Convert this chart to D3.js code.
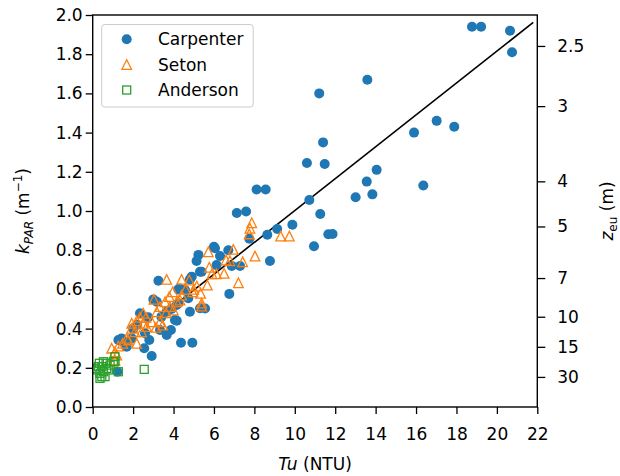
<!DOCTYPE html>
<html>
<head>
<meta charset="utf-8">
<script src="https://cdn.jsdelivr.net/npm/d3@7"></script>
<style>
  html, body { margin: 0; padding: 0; background: #fff; }
  svg text { font-family: "DejaVu Sans", sans-serif; fill: #000; }
</style>
</head>
<body>
<svg id="chart" width="620" height="476"></svg>
<script>
// Turbidity (NTU) vs. PAR attenuation coefficient (1/m), three sites
const carpenterTu = [18.77, 19.22, 20.65, 20.75, 17.02, 15.9, 17.89, 16.36, 13.59, 11.21, 11.40, 10.60, 11.48,
  14.05, 13.56, 13.01, 13.84, 10.72, 11.26, 9.88, 11.66, 11.87, 10.95, 8.11, 8.56, 7.13, 7.59,
  9.13, 8.64, 7.75, 8.77, 6.0, 6.71, 6.05, 5.23, 5.14, 6.30, 6.13, 5.31, 6.88, 7.29,
  6.76, 5.31, 5.56, 4.81, 4.9, 4.81, 3.25, 4.24, 4.29, 4.24, 4.15, 3.0, 4.07, 4.16, 3.66, 3.66,
  3.87, 3.33, 4.37, 4.93, 2.92, 2.55, 2.75, 2.8, 1.93, 1.43, 1.27, 1.68, 2.34, 2.59, 1.22,
  4.57, 4.73, 2.0, 2.2, 1.6, 3.4, 3.9, 5.39, 3.17];
const carpenterK = [1.94, 1.94, 1.92, 1.81, 1.46, 1.40, 1.43, 1.13, 1.67, 1.60, 1.35, 1.245, 1.24,
  1.21, 1.15, 1.07, 1.085, 1.056, 0.985, 0.93, 0.881, 0.883, 0.82, 1.11, 1.11, 0.99, 0.997,
  0.908, 0.879, 0.858, 0.745, 0.818, 0.80, 0.81, 0.776, 0.745, 0.77, 0.724, 0.69, 0.72, 0.719,
  0.577, 0.504, 0.503, 0.486, 0.665, 0.651, 0.644, 0.60, 0.605, 0.529, 0.52, 0.549, 0.444, 0.44, 0.486, 0.367,
  0.393, 0.393, 0.328, 0.328, 0.26, 0.30, 0.458, 0.342, 0.35, 0.35, 0.342, 0.308, 0.478, 0.376, 0.18,
  0.597, 0.555, 0.40, 0.42, 0.33, 0.46, 0.50, 0.69, 0.537];

const setonTu = [3.66, 4.40, 4.78, 5.72, 6.96, 8.03, 7.75, 7.78, 7.87, 9.30, 9.73, 7.42, 6.79, 7.21, 6.50,
  6.13, 5.77, 5.67, 5.15, 5.34, 5.39, 5.39, 4.95, 4.40, 3.96, 3.79, 4.16, 3.58, 3.33, 3.03, 3.82,
  4.32, 3.17, 3.63, 3.99, 2.64, 2.92, 3.33, 3.46, 2.50, 2.34, 1.93, 2.18, 2.67, 3.13, 2.42, 2.09,
  1.93, 1.68, 2.18, 1.76, 1.48, 1.27, 0.94, 1.10, 1.19, 1.10, 2.5, 4.6, 5.0, 5.9, 6.6];
const setonK = [0.651, 0.651, 0.648, 0.792, 0.804, 0.77, 0.883, 0.912, 0.94, 0.872, 0.872, 0.741, 0.746, 0.634, 0.682,
  0.679, 0.713, 0.622, 0.617, 0.58, 0.515, 0.53, 0.588, 0.571, 0.588, 0.563, 0.537, 0.537, 0.512, 0.549, 0.512,
  0.546, 0.486, 0.481, 0.495, 0.458, 0.435, 0.435, 0.418, 0.478, 0.458, 0.427, 0.44, 0.41, 0.406, 0.384, 0.384,
  0.401, 0.35, 0.325, 0.342, 0.325, 0.311, 0.30, 0.282, 0.265, 0.24, 0.427, 0.60, 0.60, 0.68, 0.75];

const andersonTu = [2.55, 1.27, 1.10, 1.10, 0.53, 0.2, 0.36, 0.45, 0.61, 0.69, 0.28, 0.86, 0.77, 0.53, 0.11,
  1.02, 0.33, 0.45, 0.66, 0.36];
const andersonK = [0.192, 0.18, 0.257, 0.231, 0.231, 0.189, 0.172, 0.155, 0.155, 0.197, 0.206, 0.214, 0.189, 0.18, 0.197,
  0.231, 0.223, 0.206, 0.223, 0.146];

// fitted relation, drawn between its two end points
const fitTu = [3.4, 21.8];
const fitK = [0.466, 1.962];

// axis ticks
const xTicks = [0, 2, 4, 6, 8, 10, 12, 14, 16, 18, 20, 22];
const yTicks = [0.0, 0.2, 0.4, 0.6, 0.8, 1.0, 1.2, 1.4, 1.6, 1.8, 2.0];
const zeuTicks = [2.5, 3, 4, 5, 7, 10, 15, 30];   // euphotic depth, z_eu = ln(100) / k

const seriesNames = ["Carpenter", "Seton", "Anderson"];
const colors = ["#1f77b4", "#ff7f0e", "#2ca02c"];

const svg = d3.select("#chart");
const L = 92.7, R = 537.3, T = 15, B = 407;
const fs = 17;
const fsSmall = 12;

const x = d3.scaleLinear().domain([0, 22]).range([L, R]);
const y = d3.scaleLinear().domain([0, 2.0]).range([B, T]);

const series = [
  { name: seriesNames[0], color: colors[0], shape: "circle",
    pts: carpenterTu.map((t, i) => [t, carpenterK[i]]) },
  { name: seriesNames[1], color: colors[1], shape: "triangle",
    pts: setonTu.map((t, i) => [t, setonK[i]]) },
  { name: seriesNames[2], color: colors[2], shape: "square",
    pts: andersonTu.map((t, i) => [t, andersonK[i]]) }
];

const triPath = "M0,-4.8L-4.8,4.8L4.8,4.8Z";

function drawMarker(g, shape, color) {
  if (shape === "circle") {
    g.append("circle").attr("r", 5).attr("fill", color);
  } else if (shape === "triangle") {
    g.append("path").attr("d", triPath).attr("fill", "none")
      .attr("stroke", color).attr("stroke-width", 1.3).attr("stroke-linejoin", "miter");
  } else {
    g.append("rect").attr("x", -4).attr("y", -4).attr("width", 8).attr("height", 8)
      .attr("fill", "none").attr("stroke", color).attr("stroke-width", 1.3);
  }
}

const plot = svg.append("g");
plot.append("defs").append("clipPath").attr("id", "clip")
  .append("rect").attr("x", L).attr("y", T).attr("width", R - L).attr("height", B - T);

const marks = plot.append("g").attr("clip-path", "url(#clip)");

// fit line, beneath the markers
marks.append("path")
  .datum(fitTu.map((t, i) => [t, fitK[i]]))
  .attr("d", d3.line().x(d => x(d[0])).y(d => y(d[1])))
  .attr("fill", "none").attr("stroke", "#000").attr("stroke-width", 1.6);

series.forEach(s => {
  marks.append("g").selectAll("g").data(s.pts).join("g")
    .attr("transform", d => `translate(${x(d[0])},${y(d[1])})`)
    .each(function () { drawMarker(d3.select(this), s.shape, s.color); });
});

// axes
const xAxis = d3.axisBottom(x).tickValues(xTicks).tickFormat(d3.format("d")).tickSizeOuter(0).tickSize(7).tickPadding(14);
const yAxis = d3.axisLeft(y).tickValues(yTicks).tickFormat(d3.format(".1f")).tickSizeOuter(0).tickSize(7).tickPadding(3);
const zAxis = d3.axisRight(y).tickValues(zeuTicks.map(z => Math.log(100) / z))
  .tickFormat((d, i) => String(zeuTicks[i])).tickSizeOuter(0).tickSize(8).tickPadding(12);

function styleAxis(g) {
  g.select(".domain").remove();
  g.selectAll(".tick line").attr("stroke", "#000").attr("stroke-width", 1.3);
  g.selectAll(".tick text").attr("font-size", fs).attr("font-family", "DejaVu Sans").attr("fill", "#000");
}

svg.append("g").attr("transform", `translate(0,${B})`).call(xAxis).call(styleAxis);
svg.append("g").attr("transform", `translate(${L},0)`).call(yAxis).call(styleAxis);
svg.append("g").attr("transform", `translate(${R},0)`).call(zAxis).call(styleAxis);

// frame
svg.append("rect").attr("x", L).attr("y", T).attr("width", R - L).attr("height", B - T)
  .attr("fill", "none").attr("stroke", "#000").attr("stroke-width", 1.4);

// legend
const lg = svg.append("g");
lg.append("rect").attr("x", 101.7).attr("y", 24.5).attr("width", 151.5).attr("height", 82.5)
  .attr("rx", 3).attr("fill", "#fff").attr("fill-opacity", 0.8)
  .attr("stroke", "#cccccc").attr("stroke-width", 1);
const rowsY = [39.3, 64.5, 90];
series.forEach((s, i) => {
  const row = lg.append("g").attr("transform", `translate(126.7,${rowsY[i]})`);
  drawMarker(row, s.shape, s.color);
  lg.append("text").attr("x", 158).attr("y", rowsY[i]).attr("dy", "0.36em")
    .attr("font-size", fs).text(s.name);
});

// axis titles
const xt = svg.append("text").attr("x", (L + R) / 2).attr("y", 470).attr("text-anchor", "middle").attr("font-size", fs);
xt.append("tspan").attr("font-style", "italic").text("Tu");
xt.append("tspan").text(" (NTU)");

const yt = svg.append("text").attr("transform", `translate(29,${(T + B) / 2}) rotate(-90)`)
  .attr("text-anchor", "middle").attr("font-size", fs);
yt.append("tspan").attr("font-style", "italic").text("k");
yt.append("tspan").attr("font-style", "italic").attr("font-size", fsSmall).attr("dy", 3.5).text("PAR");
yt.append("tspan").attr("dy", -3.5).text(" (m");
yt.append("tspan").attr("font-size", fsSmall).attr("dy", -7).text("−1");
yt.append("tspan").attr("dy", 7).text(")");

const zt = svg.append("text").attr("transform", `translate(613,${(T + B) / 2}) rotate(-90)`)
  .attr("text-anchor", "middle").attr("font-size", fs);
zt.append("tspan").attr("font-style", "italic").text("z");
zt.append("tspan").attr("font-size", fsSmall).attr("dy", 3.5).text("eu");
zt.append("tspan").attr("dy", -3.5).text(" (m)");
</script>
</body>
</html>
